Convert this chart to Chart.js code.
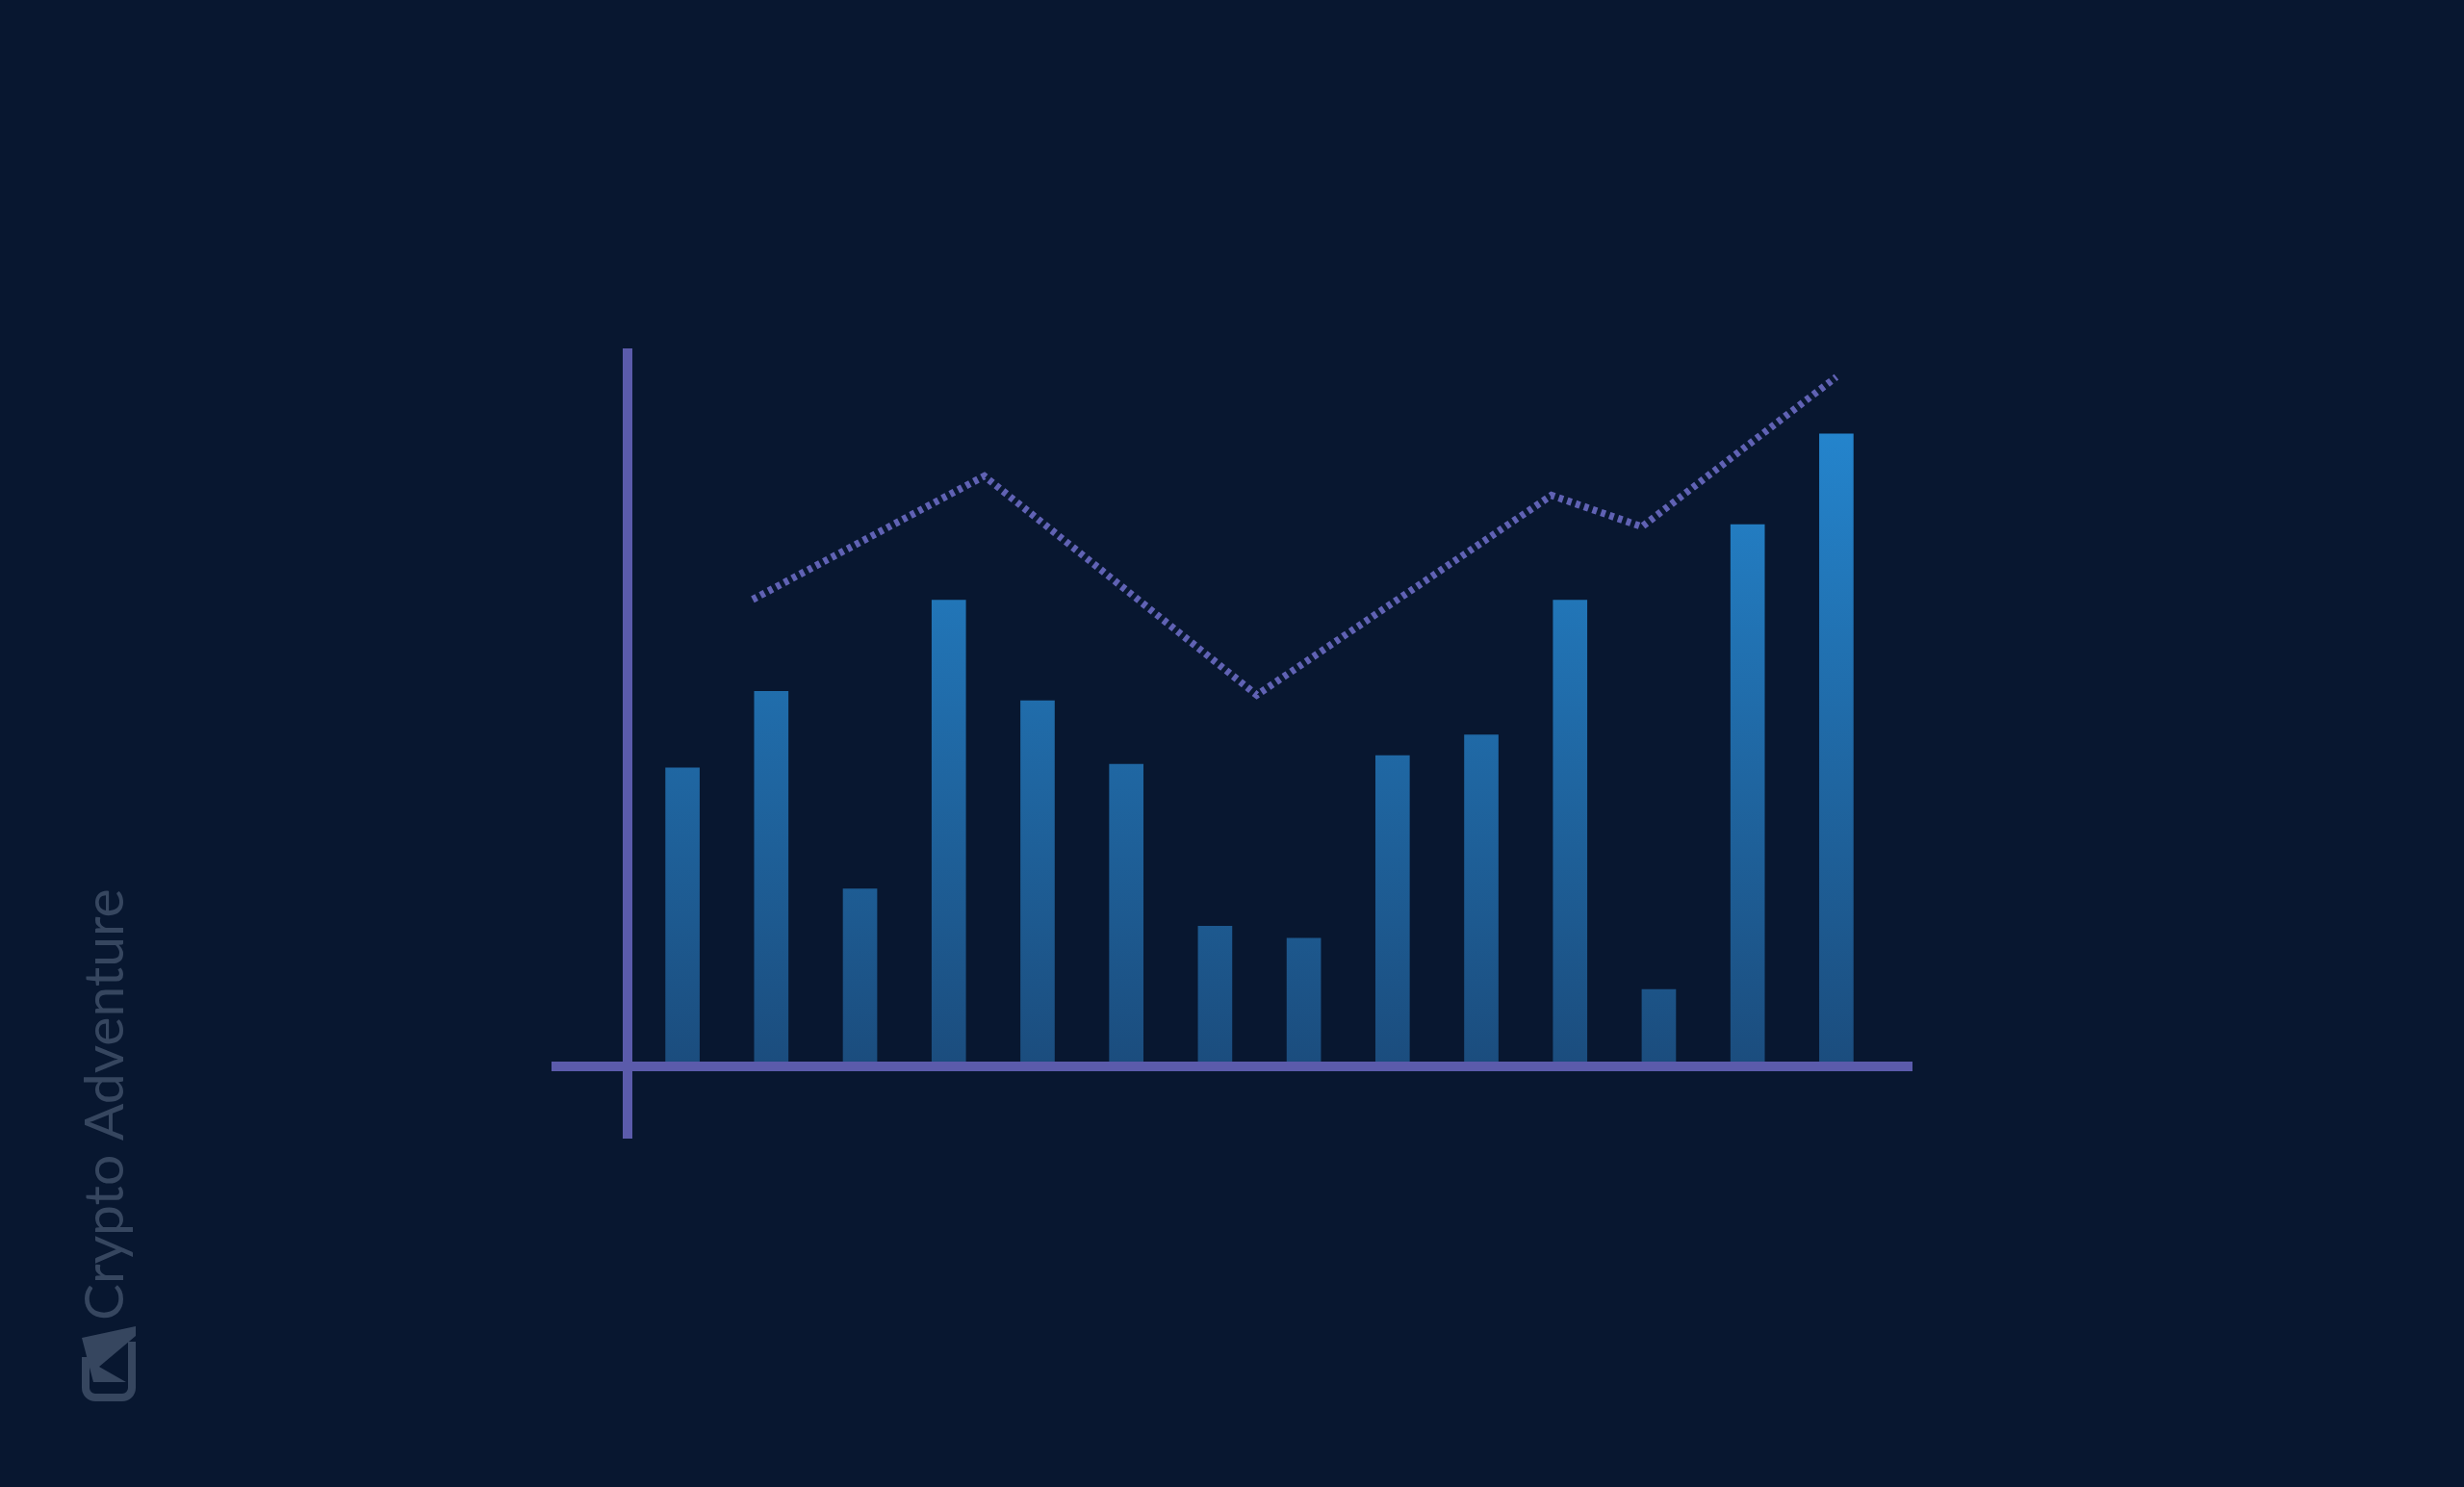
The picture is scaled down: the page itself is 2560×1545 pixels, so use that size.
<!DOCTYPE html>
<html>
<head>
<meta charset="utf-8">
<script src="https://cdn.jsdelivr.net/npm/chart.js@4.4.1/dist/chart.umd.min.js"></script>
<style>
  html, body { margin: 0; padding: 0; background: #081730; overflow: hidden; }
  canvas { display: block; }
</style>
</head>
<body>
<canvas id="c" width="2560" height="1545"></canvas>
<script>
// ---- data ----
const categories = ['1','2','3','4','5','6','7','8','9','10','11','12','13','14'];
const barValues = [41.2, 51.9, 24.2, 64.7, 50.6, 41.7, 19.0, 17.3, 42.9, 45.8, 64.7, 10.1, 75.3, 88.0];
const lineX = [0.79, 3.40, 6.47, 9.79, 10.81, 13.0];
const lineY = [64.8, 82.1, 51.4, 79.4, 75.0, 96.0];
const yMin = 0;
const yMax = 100;
const watermarkText = 'Crypto Adventure';

// ---- styles ----
const BG = '#081730';
const AXIS_COLOR = '#5b5bab';
const LINE_COLOR = '#6062b4';
const WM_COLOR = '#36465f';

const decor = {
  id: 'decor',
  beforeDraw(chart) {
    const ctx = chart.ctx;
    ctx.save();
    ctx.fillStyle = BG;
    ctx.fillRect(0, 0, chart.width, chart.height);
    // watermark
    ctx.fillStyle = WM_COLOR;
    ctx.translate(128, 1372);
    ctx.rotate(-Math.PI / 2);
    ctx.font = '400 57px Lato, "Open Sans", sans-serif';
    ctx.textBaseline = 'alphabetic';
    ctx.textAlign = 'left';
    ctx.fillText(watermarkText, 0, 0);
    ctx.restore();

    // logo (rounded square with "A" wedge)
    ctx.save();
    ctx.strokeStyle = WM_COLOR;
    ctx.fillStyle = WM_COLOR;
    ctx.lineWidth = 8;
    const lx = 89, ly = 1380, lw = 48, lh = 72, r = 10;
    ctx.beginPath();
    ctx.moveTo(lx + lw, ly + 14);
    ctx.lineTo(lx + lw, ly + lh - r);
    ctx.arcTo(lx + lw, ly + lh, lx + lw - r, ly + lh, r);
    ctx.lineTo(lx + r, ly + lh);
    ctx.arcTo(lx, ly + lh, lx, ly + lh - r, r);
    ctx.lineTo(lx, ly + 30);
    ctx.stroke();
    ctx.beginPath();
    ctx.moveTo(lx - 4, ly + 10);
    ctx.lineTo(lx + lw + 4, ly - 2);
    ctx.lineTo(lx + lw + 4, ly + 8);
    ctx.lineTo(lx + 14, ly + 40);
    ctx.lineTo(lx + lw - 6, ly + 56);
    ctx.lineTo(lx + 8, ly + 56);
    ctx.closePath();
    ctx.fill();
    ctx.restore();
  },
  afterDatasetsDraw(chart) {
    const ctx = chart.ctx;
    const a = chart.chartArea;
    const y0 = chart.scales.y.getPixelForValue(0);
    ctx.save();
    ctx.fillStyle = AXIS_COLOR;
    // vertical axis
    ctx.fillRect(a.left - 16, a.top, 10, (y0 - a.top) + 80);
    // horizontal axis
    ctx.fillRect(a.left - 90, y0, (a.right + 33) - (a.left - 90), 10);
    ctx.restore();
  }
};

new Chart(document.getElementById('c').getContext('2d'), {
  type: 'bar',
  data: {
    labels: categories,
    datasets: [
      {
        type: 'line',
        data: lineX.map((x, i) => ({ x: x, y: lineY[i] })),
        xAxisID: 'x2',
        yAxisID: 'y',
        borderColor: LINE_COLOR,
        borderWidth: 7.5,
        borderDash: [4.8, 4.5],
        pointRadius: 0,
        tension: 0,
        fill: false,
        order: 0
      },
      {
        type: 'bar',
        data: barValues,
        xAxisID: 'x',
        yAxisID: 'y',
        grouped: false,
        barThickness: 35,
        borderWidth: 0,
        order: 1,
        backgroundColor(context) {
          const chart = context.chart;
          const a = chart.chartArea;
          if (!a) return '#2070b0';
          const g = chart.ctx.createLinearGradient(0, chart.scales.y.getPixelForValue(88), 0, chart.scales.y.getPixelForValue(0));
          g.addColorStop(0, '#2484cc');
          g.addColorStop(1, '#1b4d7e');
          return g;
        }
      }
    ]
  },
  options: {
    responsive: false,
    animation: false,
    devicePixelRatio: 1,
    layout: { padding: { left: 663, right: 606, top: 362, bottom: 442 } },
    plugins: { legend: { display: false }, tooltip: { enabled: false } },
    scales: {
      x: { type: 'category', display: false, offset: true, grid: { display: false } },
      x2: { type: 'linear', display: false, offset: false, min: -0.5, max: 13.5, grid: { display: false } },
      y: { display: false, min: yMin, max: yMax, grid: { display: false } }
    }
  },
  plugins: [decor]
});
</script>
</body>
</html>
